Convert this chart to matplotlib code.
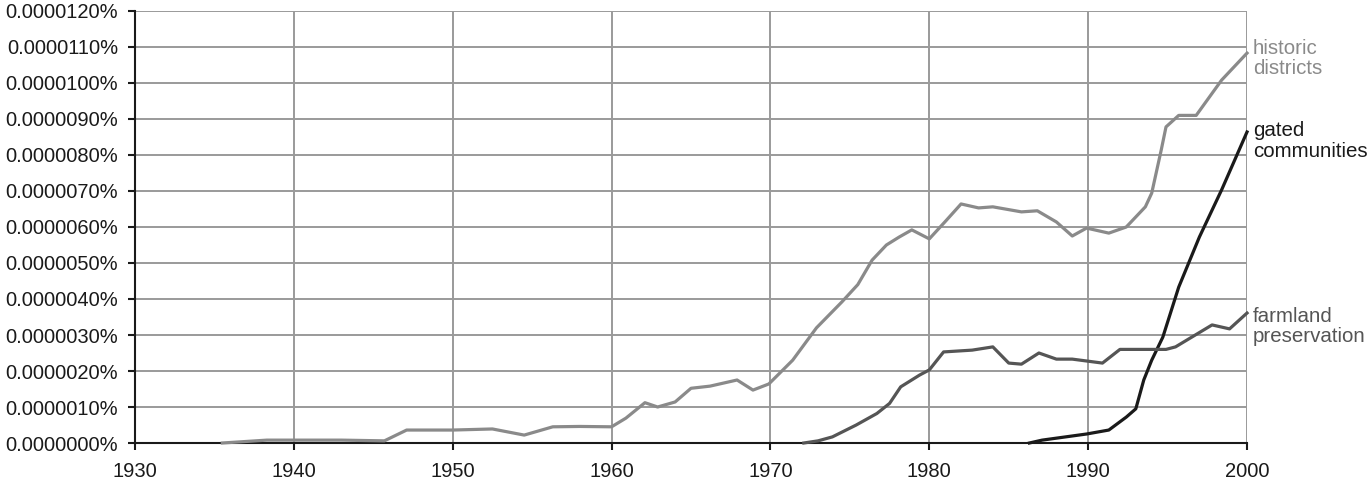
import matplotlib
matplotlib.use("Agg")
from matplotlib import pyplot as plt
from matplotlib.ticker import FuncFormatter, MultipleLocator

plt.rcParams['font.family'] = ['Liberation Sans', 'DejaVu Sans']

# values in units of 0.000001 %
historic_years = [1935.5, 1938.3, 1940, 1943, 1945.7, 1947.1, 1950, 1952.5, 1954.5, 1956.3,
                  1958, 1960, 1960.9, 1962.1, 1962.9, 1964, 1965, 1966.2, 1967.9, 1968.9,
                  1969.9, 1971.4, 1972.9, 1974.5, 1975.5, 1976.4, 1977.3, 1978.1, 1978.9, 1980,
                  1981, 1982, 1983.1, 1984, 1985.8, 1986.8, 1988, 1989, 1989.9, 1991.3,
                  1992.4, 1993.6, 1994, 1994.6, 1994.9, 1995.7, 1996.8, 1998.4, 2000]
historic_vals = [0, 0.08, 0.08, 0.08, 0.06, 0.36, 0.36, 0.39, 0.22, 0.45,
                 0.46, 0.45, 0.69, 1.12, 1.0, 1.14, 1.52, 1.58, 1.75, 1.47,
                 1.64, 2.3, 3.2, 3.92, 4.4, 5.08, 5.5, 5.72, 5.92, 5.67,
                 6.15, 6.64, 6.53, 6.56, 6.42, 6.45, 6.14, 5.75, 5.97, 5.83,
                 6.0, 6.56, 6.94, 8.14, 8.78, 9.1, 9.1, 10.08, 10.83]

farmland_years = [1972.1, 1973, 1973.9, 1975.4, 1976.7, 1977.5, 1978.2, 1979.4, 1980, 1980.9,
                  1982.7, 1984, 1985, 1985.8, 1986.9, 1988, 1989, 1990.9, 1992, 1994.9,
                  1995.5, 1997.8, 1998.9, 2000]
farmland_vals = [0, 0.06, 0.17, 0.5, 0.82, 1.1, 1.56, 1.89, 2.03, 2.53,
                 2.58, 2.67, 2.22, 2.19, 2.5, 2.33, 2.33, 2.22, 2.6, 2.6,
                 2.67, 3.28, 3.17, 3.61]

gated_years = [1986.3, 1987.1, 1989.9, 1991.3, 1992.4, 1993, 1993.5, 1994, 1994.7, 1995.7,
               1997, 1998.4, 2000]
gated_vals = [0.0, 0.08, 0.25, 0.36, 0.72, 0.95, 1.75, 2.3, 2.94, 4.33,
              5.72, 7.03, 8.64]

# label, x, y, colour, vertical offset of the end label (points)
series = [
    ("historic\ndistricts", historic_years, historic_vals, "#8a8a8a", 10.4),
    ("gated\ncommunities", gated_years, gated_vals, "#1a1a1a", 7.6),
    ("farmland\npreservation", farmland_years, farmland_vals, "#555555", 4.7),
]

fig = plt.figure(figsize=(13.69, 4.84), dpi=100)
ax = fig.add_axes([0.0986, 0.0847, 0.9109 - 0.0986, 0.9773 - 0.0847])

for label, xs, ys, col, dy in series:
    ax.plot(xs, ys, color=col, lw=2.3, solid_joinstyle='round', clip_on=False, zorder=3)
    ax.annotate(label, xy=(xs[-1], ys[-1]), xytext=(4.3, dy), textcoords='offset points',
                va='top', ha='left', fontsize=14.8, color=col, linespacing=1.12,
                annotation_clip=False)

ax.set_xlim(1930, 2000)
ax.set_ylim(0, 12)
ax.xaxis.set_major_locator(MultipleLocator(10))
ax.yaxis.set_major_locator(MultipleLocator(1))
ax.yaxis.set_major_formatter(FuncFormatter(lambda v, p: f"{v * 1e-6:.7f}%"))

ax.grid(True, color="#9a9a9a", lw=1.4)
ax.set_axisbelow(True)
for s in ['top', 'right']:
    ax.spines[s].set_visible(False)
for s in ['left', 'bottom']:
    ax.spines[s].set_color('#1a1a1a')
    ax.spines[s].set_linewidth(1.5)
ax.tick_params(direction='out', length=5, width=1.5, color='#1a1a1a',
               labelsize=14.5, labelcolor='#1a1a1a')
ax.tick_params(axis='y', pad=7)
ax.tick_params(axis='x', pad=9)

fig.savefig("out.png", dpi=100)
